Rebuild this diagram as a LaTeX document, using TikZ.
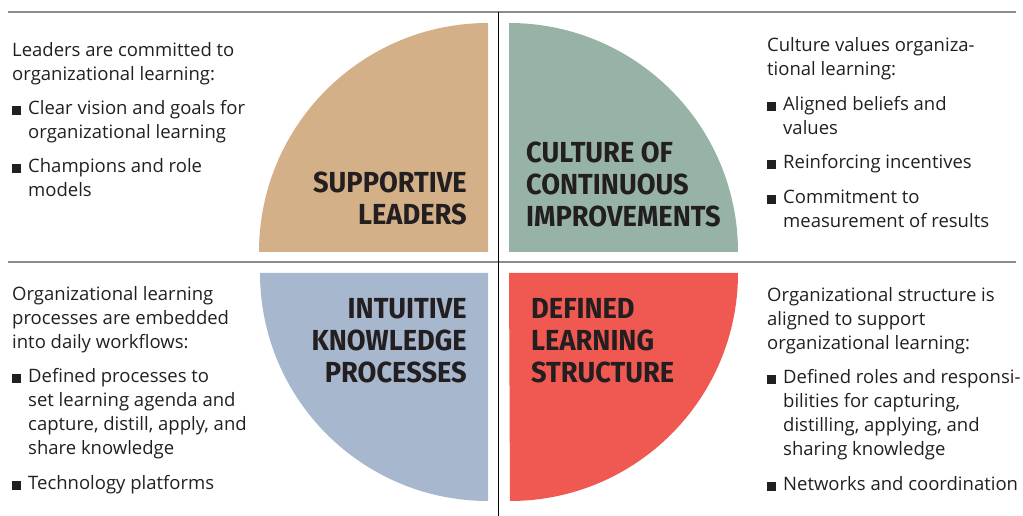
\documentclass[tikz,border=0pt]{standalone}
\usepackage{fontspec}
\setmainfont{Open Sans}
\newfontfamily\headfont[FakeStretch=0.94]{Fira Sans}
\definecolor{leadtan}{RGB}{212,176,136}
\definecolor{cultgreen}{RGB}{150,179,165}
\definecolor{knowblue}{RGB}{167,183,206}
\definecolor{structred}{RGB}{240,88,82}
\definecolor{rulegray}{RGB}{140,140,140}
\definecolor{inkdark}{RGB}{35,31,32}
\newcommand{\bsq}{\makebox[16pt][l]{\rule{9pt}{9pt}}}
\newcommand{\ind}{\hspace*{16pt}}

\begin{document}
\begin{tikzpicture}[x=1pt, y=1pt]
		\useasboundingbox (0,0) rectangle (1023,516);
		\begin{scope}
		\tikzstyle{every node}=[inner sep=0pt, text=inkdark]
		\tikzstyle{head}=[font=\headfont\bfseries\fontsize{29}{32}\selectfont]
		\tikzstyle{body}=[font=\fontsize{18.5}{24}\selectfont, align=left, anchor=base west]
				\fill[leadtan]   (488,264) -- (259,264) arc[start angle=180, end angle=90, radius=229] -- cycle;
				\fill[cultgreen] (509,264) -- (509,493) arc[start angle=90, end angle=0, radius=229] -- cycle;
				\fill[knowblue]  (488,243) -- (488,15) arc[start angle=270, end angle=180, radius=228] -- cycle;
				\fill[structred] (509,243) -- (738,243) arc[start angle=0, end angle=-90, radius=228] -- cycle;

				\node[head, align=right, anchor=base east] (SL) at (467,291) {SUPPORTIVE\\LEADERS};
				\node[head, align=left, anchor=base west] (CCI) at (526,289) {CULTURE OF\\CONTINUOUS\\IMPROVEMENTS};
				\node[head, align=right, anchor=base east] (IKP) at (467,133) {INTUITIVE\\KNOWLEDGE\\PROCESSES};
				\node[head, align=left, anchor=base west] (DLS) at (531,133) {DEFINED\\LEARNING\\STRUCTURE};

				\node[body] (SLt) at (12,319) {Leaders are committed to\\organizational learning:\\[10pt]
					\bsq Clear vision and goals for\\\ind organizational learning\\[10pt]
					\bsq Champions and role\\\ind models};
				\node[body] (CCIt) at (767,288) {Culture values organiza-\\tional learning:\\[11pt]
					\bsq Aligned beliefs and\\\ind values\\[10pt]
					\bsq Reinforcing incentives\\[11pt]
					\bsq Commitment to\\\ind measurement of results};
				\node[body] (IKPt) at (12,26) {Organizational learning\\processes are embedded\\into daily workflows:\\[10pt]
					\bsq Defined processes to\\\ind set learning agenda and\\\ind capture, distill, apply, and\\\ind share knowledge\\[11pt]
					\bsq Technology platforms};
				\node[body] (DLSt) at (767,25) {Organizational structure is\\aligned to support\\organizational learning:\\[10pt]
					\bsq Defined roles and responsi-\\\ind bilities for capturing,\\\ind distilling, applying, and\\\ind sharing knowledge\\[11pt]
					\bsq Networks and coordination};

				\coordinate (TL) at (8,504.3);
				\coordinate (TR) at (1016,504.3);
				\coordinate (ML) at (8,253.7);
				\coordinate (MR) at (1016,253.7);
				\coordinate (VT) at (498.7,504.3);
				\coordinate (VB) at (498.7,0);
				\draw[rulegray, line width=2pt] (TL) -- (TR);
				\draw[rulegray, line width=2pt] (ML) -- (MR);
				\draw[black, line width=1.5pt] (VT) -- (VB);
		\end{scope}
	\end{tikzpicture}
\end{document}
